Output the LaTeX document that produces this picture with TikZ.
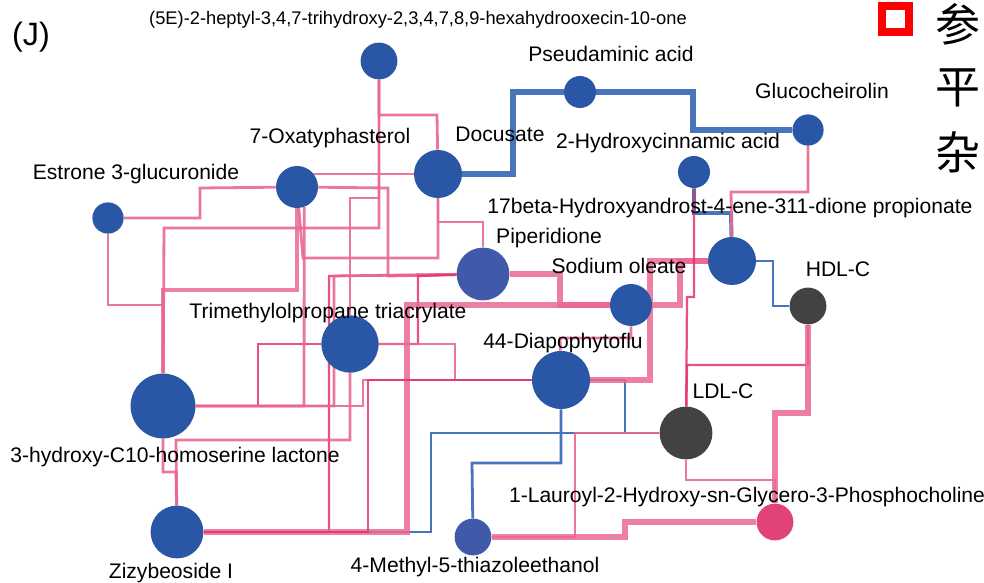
\documentclass[tikz,border=0pt]{standalone}
\usepackage{fontspec}
\setmainfont{Liberation Sans}
\newfontfamily\cjk{Noto Sans CJK SC}
\usetikzlibrary{positioning}
\definecolor{nblue}{RGB}{41,86,165}
\definecolor{nlav}{RGB}{64,89,168}
\definecolor{ngray}{RGB}{66,66,66}
\definecolor{npink}{RGB}{226,66,122}
\definecolor{epink}{RGB}{233,104,146}
\definecolor{edeep}{RGB}{228,52,105}
\definecolor{eblue}{RGB}{72,116,190}
\pgfdeclarelayer{bg}
\pgfsetlayers{bg,main}
\tikzset{
 dot/.style={circle,fill=nblue,inner sep=0pt,minimum size=#1},
 lbl/.style={inner sep=0pt,font=\fontsize{15}{18}\selectfont},
 pk/.style={draw=epink,line width=2pt,draw opacity=0.9},
 pkdeep/.style={draw=edeep,line width=1.6pt,draw opacity=0.85},
 pkthick/.style={draw=epink,line width=4.2pt,draw opacity=0.85},
 bl/.style={draw=eblue,line width=2pt},
 blmid/.style={draw=eblue,line width=2.8pt},
 blthick/.style={draw=eblue,line width=3.8pt},
}
\begin{document}
\begin{tikzpicture}[x=0.025cm,y=-0.025cm]
 \useasboundingbox (0,0) rectangle (984,583);
 % nodes
 \node[dot=0.92cm] (five) at (379,61) {};
 \node[dot=0.8cm] (pseu) at (580,92) {};
 \node[dot=0.78cm] (gluc) at (808,130) {};
 \node[dot=1.2cm] (docu) at (438,174) {};
 \node[dot=1.05cm] (oxa) at (297,187) {};
 \node[dot=0.78cm] (est) at (108,218) {};
 \node[dot=0.8cm] (hydc) at (694,172) {};
 \node[dot=1.2cm] (beta) at (732,261) {};
 \node[dot=1.32cm,fill=nlav] (pip) at (483,274) {};
 \node[dot=1.05cm] (sod) at (631,305) {};
 \node[dot=0.92cm,fill=ngray] (hdl) at (808,306) {};
 \node[dot=1.43cm] (tri) at (350,344) {};
 \node[dot=1.45cm] (diap) at (561,380) {};
 \node[dot=1.32cm,fill=ngray] (ldl) at (686,433) {};
 \node[dot=1.62cm] (hyd) at (163,406) {};
 \node[dot=0.92cm,fill=npink] (lau) at (775,522) {};
 \node[dot=1.32cm] (ziz) at (177,532) {};
 \node[dot=0.92cm,fill=nlav] (meth) at (473,537) {};

 % labels
 \node[lbl,font=\fontsize{23}{26}\selectfont] (lj) at (31,37) {(J)};
 \node[lbl,font=\fontsize{13}{16}\selectfont] (lfive) at (418,20) {(5E)-2-heptyl-3,4,7-trihydroxy-2,3,4,7,8,9-hexahydrooxecin-10-one};
 \node[lbl] (lpseu) at (611,54) {Pseudaminic acid};
 \node[lbl] (lgluc) at (822,91) {Glucocheirolin};
 \node[lbl] (ldocu) at (500,134) {Docusate};
 \node[lbl] (loxa) at (330,138) {7-Oxatyphasterol};
 \node[lbl] (lest) at (136,174) {Estrone 3-glucuronide};
 \node[lbl] (lhydc) at (668,143) {2-Hydroxycinnamic acid};
 \node[lbl] (lbeta) at (730,208) {17beta-Hydroxyandrost-4-ene-311-dione propionate};
 \node[lbl] (lpip) at (549,238) {Piperidione};
 \node[lbl] (lsod) at (619,266) {Sodium oleate};
 \node[lbl] (lhdl) at (838,269) {HDL-C};
 \node[lbl] (ltri) at (328,313) {Trimethylolpropane triacrylate};
 \node[lbl] (ldiap) at (563,343) {44-Diapophytoflu};
 \node[lbl] (lldl) at (723,391) {LDL-C};
 \node[lbl] (lhyd) at (175,457) {3-hydroxy-C10-homoserine lactone};
 \node[lbl] (llau) at (747,497) {1-Lauroyl-2-Hydroxy-sn-Glycero-3-Phosphocholine};
 \node[lbl] (lziz) at (171,573) {Zizybeoside I};
 \node[lbl] (lmeth) at (475,567) {4-Methyl-5-thiazoleethanol};

 % side notes
 \draw[red,line width=5.6pt] (882,6) rectangle (909,32);
 \foreach \c/\y in {参/24,平/88,杂/152}
  \node[inner sep=0pt,font=\cjk\fontsize{32}{35}\selectfont] at (958,\y) {\c};

 % connectors
 \begin{pgfonlayer}{bg}
 \draw[blthick] (docu) -- (513,174) -- (513,92) -- (pseu);
 \draw[blthick] (pseu) -- (693,92) -- (693,130) -- (gluc);
 \draw[blmid] (hydc) -- (694,213) -- (731,213) -- (beta);
 \draw[bl] (beta) -- (773,261) -- (773,306) -- (hdl);
 \draw[bl] (diap) -- (625,380) -- (625,433) -- (ldl);
 \draw[bl] (diap) -- (561,463) -- (472,463) -- (meth);
 \draw[bl] (ziz) -- (431,532) -- (431,433) -- (ldl);

 \draw[pk] (five) -- (379,115) -- (437,115) -- (docu);
 \draw[pk] (five) -- (379,228) -- (164,228) -- (hyd);
 \draw[pk] (five) -- (379,198) -- (350,198) -- (tri);
 \draw[pk] (oxa) |- (docu);
 \draw[pk] (est) -- (200,218) -- (200,188) -- (oxa);
 \draw[pk] (est) -- (108,305) -- (163,305) -- (hyd);
 \draw[pkthick,line width=2.8pt] (oxa) -- (297,290) -- (163,290) -- (hyd);
 \draw[pk] (oxa) -- (388,188) -- (388,276) -- (pip);
 \draw[pk] (docu) -- (438,258) -- (303,258) -- (oxa);
 \draw[pk] (docu) -- (438,222) -- (483,222) -- (pip);
 \draw[pkdeep] (pip) -- (329,276) -- (329,532) -- (ziz);
 \draw[pk] (pip) -- (334,276) -- (334,406) -- (hyd);
 \draw[pkdeep] (pip) -- (418,276) -- (418,344) -- (tri);
 \draw[pkthick] (pip) -- (560,274) -- (560,305) -- (sod);
 \draw[pkthick] (sod) -- (407,305) -- (407,532) -- (ziz);
 \draw[pkthick] (sod) -- (680,305) -- (680,261) -- (beta);
 \draw[pkthick] (beta) -- (650,261) -- (650,380) -- (diap);
 \draw[pk] (sod) -- (631,338) -- (560,338) -- (diap);
 \draw[pk] (tri) -- (455,344) -- (455,380) -- (diap);
 \draw[pkdeep] (tri) -- (258,344) -- (258,406) -- (hyd);
 \draw[pk] (tri) -- (350,440) -- (176,440) -- (ziz);
 \draw[pk] (hyd) -- (363,406) -- (363,380) -- (diap);
 \draw[pkdeep] (ziz) -- (368,532) -- (368,380) -- (diap);
 \draw[pk] (oxa.-70) -- (304,406) -- (hyd);
 \draw[pk] (hyd) -- (163,472) -- (176,472) -- (ziz);

 \draw[pk] (gluc) -- (808,192) -- (731,192) -- (beta);
 \draw[pkdeep] (hydc) -- (694,297) -- (687,297) -- (ldl);
 \draw[pkdeep] (hdl) -- (808,365) -- (687,365) -- (ldl);
 \draw[pkthick] (hdl) -- (808,413) -- (775,413) -- (lau);
 \draw[pk] (ldl) -- (686,480) -- (775,480) -- (lau);
 \draw[pk] (meth) -- (575,537) -- (575,433) -- (ldl);
 \draw[pkthick] (meth) -- (625,537) -- (625,522) -- (lau);
 \end{pgfonlayer}
\end{tikzpicture}
\end{document}
